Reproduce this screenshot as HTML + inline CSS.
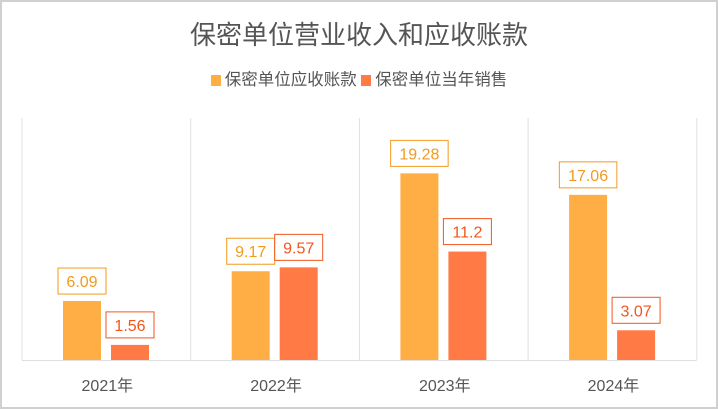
<!DOCTYPE html>
<html><head><meta charset="utf-8"><style>
html,body{margin:0;padding:0;background:#fff}
#c{position:relative;width:718px;height:409px;box-sizing:border-box;border:2px solid #d0d0d0;background:#fff;font-family:"Liberation Sans","Noto Sans CJK SC",sans-serif;overflow:hidden}
.t{position:absolute;left:0;width:714px;text-align:center;top:13px;font-size:26px;color:#555}
.lg{position:absolute;top:64px;left:0;width:714px;text-align:center;font-size:16.5px;color:#555}
.sw{display:inline-block;width:10px;height:11px;margin:0 4px 0 0;vertical-align:-1px}
</style></head><body>
<div id="c">
<div class="t">保密单位营业收入和应收账款</div>
<div class="lg"><span><span class="sw" style="background:#FFAD45"></span>保密单位应收账款</span> <span><span class="sw" style="background:#FF7A45"></span>保密单位当年销售</span></div>
<svg id="s" width="714" height="405" style="position:absolute;left:0;top:0"></svg>
</div>
<script>
const categories=["2021年","2022年","2023年","2024年"];
const receivable=[6.09,9.17,19.28,17.06];
const sales=[1.56,9.57,11.2,3.07];
const NS="http://www.w3.org/2000/svg";
const s=document.getElementById('s');
const x0=20,cw=168.7,yTop=116,yBot=358,yMax=25;
const y=v=>yBot-(v/yMax)*(yBot-yTop);
function mk(t,a){const e=document.createElementNS(NS,t);for(const k in a)e.setAttribute(k,a[k]);s.appendChild(e);return e;}
for(let i=0;i<=categories.length;i++){
 const l=mk('line',{x1:x0+i*cw,x2:x0+i*cw,y1:yTop,y2:yBot,stroke:'#e0e0e0','stroke-width':1});
 
 
}
const ax=mk('line',{x1:x0,x2:x0+4*cw,y1:yBot+0.5,y2:yBot+0.5,stroke:'#e0e0e0'});


const series=[[receivable,'#FFAD45','#F39A1E',41,'receivable'],[sales,'#FF7A45','#F0561E',89,'sales']];
categories.forEach((c,i)=>{
 series.forEach(([vals,fill,tc,off,nm])=>{
  const v=vals[i],bx=x0+i*cw+off,bw=38,top=y(v);
  const r=mk('rect',{x:bx,y:top,width:bw,height:yBot-top,fill:fill});
  
  
  const cx=bx+bw/2,by=top-33;
  const txt=String(v);const w=Math.max(45,txt.length*9.5+10);
  const b=mk('rect',{x:cx-w/2,y:by,width:w,height:26,fill:'#fff',stroke:tc,'stroke-width':1});
  
  
  const t=mk('text',{x:cx,y:by+19,'text-anchor':'middle','font-size':16,fill:tc});
  t.textContent=txt;
  
  
 });
 const lt=mk('text',{x:x0+i*cw+cw/2+1,y:389,'text-anchor':'middle','font-size':16,fill:'#555'});
 lt.textContent=c;
 
 
});
</script>
</body></html>
